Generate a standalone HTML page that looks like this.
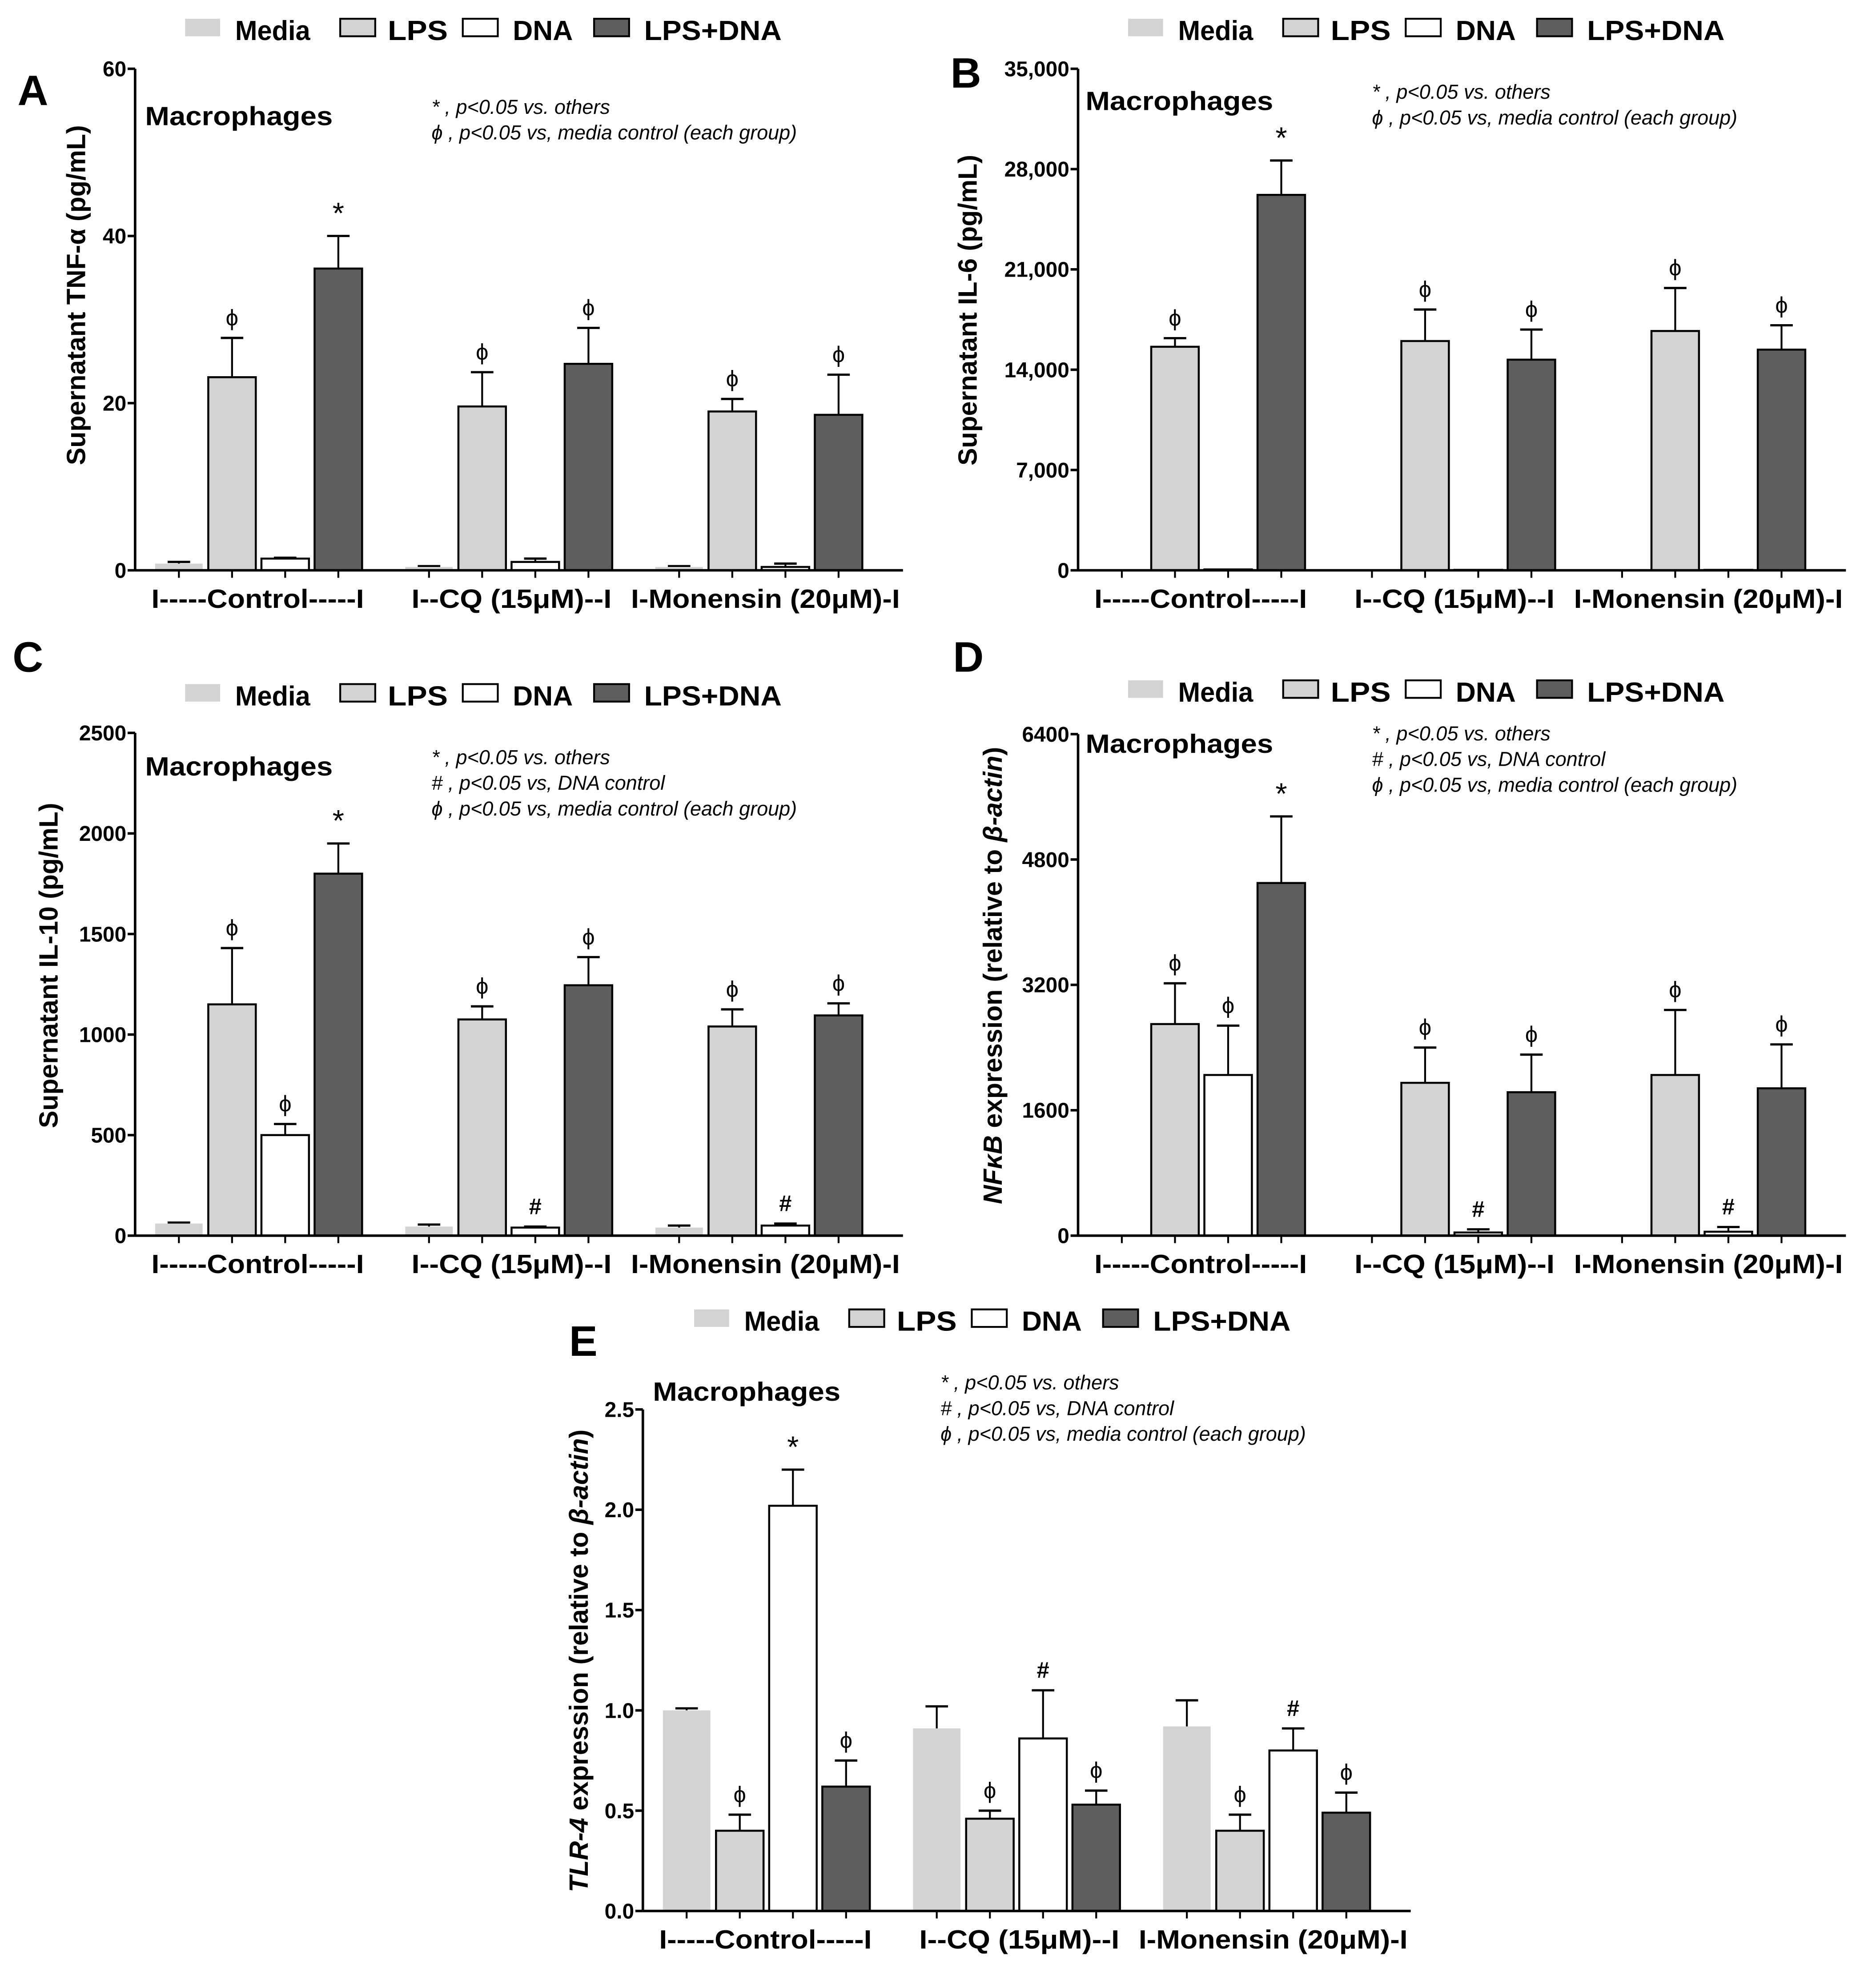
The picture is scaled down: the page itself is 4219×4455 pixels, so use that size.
<!DOCTYPE html>
<html><head><meta charset="utf-8"><style>
html,body{margin:0;padding:0;background:#fff}
svg{display:block}
text{font-family:"Liberation Sans",sans-serif}
.b{font-weight:bold}
.i{font-style:italic}
</style></head><body>
<svg id="fig" width="4219" height="4455" viewBox="0 0 1500 1584" xmlns="http://www.w3.org/2000/svg"></svg>
<script>
const categories = ["I-----Control-----I","I--CQ (15\u03BCM)--I","I-Monensin (20\u03BCM)-I"];
const seriesNames = ["Media","LPS","DNA","LPS+DNA"];
// Panel A TNF-a
const aMedia=[0.8,0.4,0.4], aMediaErr=[1.0,0.5,0.5];
const aLPS=[23.1,19.6,19.0], aLPSErr=[27.8,23.7,20.5];
const aDNA=[1.4,1.0,0.4], aDNAErr=[1.5,1.4,0.8];
const aLD=[36.1,24.7,18.6], aLDErr=[40.0,29.0,23.4];
const aTicks=[0,20,40,60];
// Panel B IL-6
const bMedia=[0,0,0], bMediaErr=[0,0,0];
const bLPS=[15600,16000,16700], bLPSErr=[16200,18200,19700];
const bDNA=[60,30,30], bDNAErr=[60,30,30];
const bLD=[26200,14700,15400], bLDErr=[28600,16800,17100];
const bTicks=[0,7000,14000,21000,28000,35000];
// Panel C IL-10
const cMedia=[60,45,40], cMediaErr=[65,55,50];
const cLPS=[1150,1075,1040], cLPSErr=[1430,1140,1125];
const cDNA=[500,40,50], cDNAErr=[555,45,60];
const cLD=[1800,1245,1095], cLDErr=[1950,1385,1155];
const cTicks=[0,500,1000,1500,2000,2500];
// Panel D NFkB
const dMedia=[0,0,0], dMediaErr=[0,0,0];
const dLPS=[2700,1950,2050], dLPSErr=[3220,2400,2880];
const dDNA=[2050,40,50], dDNAErr=[2680,80,110];
const dLD=[4500,1830,1880], dLDErr=[5350,2310,2440];
const dTicks=[0,1600,3200,4800,6400];
// Panel E TLR-4
const eMedia=[1.0,0.91,0.92], eMediaErr=[1.01,1.02,1.05];
const eLPS=[0.40,0.46,0.40], eLPSErr=[0.48,0.50,0.48];
const eDNA=[2.02,0.86,0.80], eDNAErr=[2.20,1.10,0.91];
const eLD=[0.62,0.53,0.49], eLDErr=[0.75,0.60,0.59];
const eTicks=[0,0.5,1.0,1.5,2.0,2.5];

const NS="http://www.w3.org/2000/svg";
const svg=document.getElementById('fig');
function mk(tag,attrs,parent,txt){const e=document.createElementNS(NS,tag);for(const k in attrs)e.setAttribute(k,attrs[k]);if(txt!==undefined)e.textContent=txt;(parent||svg).appendChild(e);return e;}
const fills=["#d3d3d3","#d3d3d3","#ffffff","#5e5e5e"];
const strokes=["none","#000","#000","#000"];

function legend(x,y){
  const g=mk('g',{});
  
  
  const offs=[[0,40,60],[124,162,48],[222,262,48],[327,367,110]];
  for(let i=0;i<4;i++){
    const r=mk('rect',{x:x+offs[i][0],y:y-9,width:28,height:14,fill:fills[i],stroke:strokes[i]==="none"?"none":"#000","stroke-width":1.5},g);
    
    
    const t=mk('text',{x:x+offs[i][1],y:y+8,'font-size':22,class:'b',textLength:offs[i][2],lengthAdjust:'spacingAndGlyphs'},g,seriesNames[i]);
    
    
  }
}

function panel(o){
  const g=mk('g',{});
  
  
  const max=o.ticks[o.ticks.length-1];
  const yS=v=>o.y0-(v/max)*(o.y0-o.yTop);
  const xS=(gi,si)=>o.x0+35+gi*200+si*42.5;
  legend(o.legX,o.legY);
  const L=mk('text',{x:o.letX,y:o.letY,'font-size':34,class:'b'},g,o.letter);
  
  
  const M=mk('text',{x:o.macX,y:o.macY,'font-size':21,class:'b',textLength:150,lengthAdjust:'spacingAndGlyphs'},g,'Macrophages');
  
  
  o.notes.forEach((n,k)=>{
    const t=mk('text',{x:o.noteX,y:o.noteY+k*20.5,'font-size':16,class:'i'},g,n);
    
    
  });
  const series=[[o.s[0],o.e[0]],[o.s[1],o.e[1]],[o.s[2],o.e[2]],[o.s[3],o.e[3]]];
  const bw=38;
  for(let gi=0;gi<3;gi++){
    for(let si=0;si<4;si++){
      const v=series[si][0][gi], ev=series[si][1][gi];
      const cx=xS(gi,si);
      if(ev>v){
        const l=mk('line',{x1:cx,x2:cx,y1:yS(v),y2:yS(ev),stroke:'#000','stroke-width':1.5},g);
        
        
        const c=mk('line',{x1:cx-9,x2:cx+9,y1:yS(ev),y2:yS(ev),stroke:'#000','stroke-width':1.8},g);
        
        
      }
      if(v>0){
        const r=mk('rect',{x:cx-bw/2,y:yS(v),width:bw,height:o.y0-yS(v),fill:fills[si],stroke:strokes[si],'stroke-width':1.6},g);
        
        
      }
      const mark=o.marks[si][gi];
      if(mark){
        const top=Math.max(v,ev);
        const t=mk('text',{x:cx,y:yS(top)-10,'font-size':mark==='*'?24:18,'text-anchor':'middle',class:mark==='#'?'b':''},g,mark);
        
        
      }
    }
  }
  // axes
  const ya=mk('line',{x1:o.x0,x2:o.x0,y1:o.yTop,y2:o.y0,stroke:'#000','stroke-width':2},g);
  
  
  const xa=mk('line',{x1:o.x0,x2:o.x0+614,y1:o.y0,y2:o.y0,stroke:'#000','stroke-width':2},g);
  
  
  o.ticks.forEach((tv,k)=>{
    const y=yS(tv);
    mk('line',{x1:o.x0-6,x2:o.x0,y1:y,y2:y,stroke:'#000','stroke-width':2},g);
    const t=mk('text',{x:o.x0-7,y:y+6,'font-size':17,class:'b','text-anchor':'end'},g,o.tickLabels[k]);
    
    
  });
  for(let gi=0;gi<3;gi++)for(let si=0;si<4;si++){
    const x=xS(gi,si);
    mk('line',{x1:x,x2:x,y1:o.y0,y2:o.y0+6,stroke:'#000','stroke-width':1.5},g);
  }
  const catW=[170,160,215];
  categories.forEach((c,gi)=>{
    const t=mk('text',{x:o.x0+98+gi*203,y:o.y0+30,'font-size':21,class:'b','text-anchor':'middle',textLength:catW[gi],lengthAdjust:'spacingAndGlyphs'},g,c);
    
    
  });
  const yt=mk('text',{x:0,y:0,'font-size':21,class:'b','text-anchor':'middle',transform:`translate(${o.ytX},${o.ytY}) rotate(-90)`},g);
  
  
  o.ytitle.forEach(p=>{const s=mk('tspan',{},yt,p[0]);if(p[1])s.setAttribute('font-style','italic');});
}

const PHI='\u03D5';
panel({letter:'A',letX:14,letY:84,legX:148,legY:24,macX:116,macY:100,noteX:345,noteY:91,
  notes:['* , p<0.05 vs. others',PHI+' , p<0.05 vs, media control (each group)'],
  x0:108,y0:456,yTop:55,ticks:aTicks,tickLabels:aTicks.map(String),
  s:[aMedia,aLPS,aDNA,aLD],e:[aMediaErr,aLPSErr,aDNAErr,aLDErr],
  marks:[[0,0,0],[PHI,PHI,PHI],[0,0,0],['*',PHI,PHI]],
  ytX:68,ytY:236,ytitle:[['Supernatant TNF-\u03B1 (pg/mL)']]});
panel({letter:'B',letX:760,letY:70,legX:902,legY:24,macX:868,macY:88,noteX:1097,noteY:79,
  notes:['* , p<0.05 vs. others',PHI+' , p<0.05 vs, media control (each group)'],
  x0:862,y0:456,yTop:55,ticks:bTicks,tickLabels:["0","7,000","14,000","21,000","28,000","35,000"],
  s:[bMedia,bLPS,bDNA,bLD],e:[bMediaErr,bLPSErr,bDNAErr,bLDErr],
  marks:[[0,0,0],[PHI,PHI,PHI],[0,0,0],['*',PHI,PHI]],
  ytX:781,ytY:248,ytitle:[['Supernatant IL-6 (pg/mL)']]});
panel({letter:'C',letX:10,letY:537,legX:148,legY:556,macX:116,macY:620,noteX:345,noteY:611,
  notes:['* , p<0.05 vs. others','# , p<0.05 vs, DNA control',PHI+' , p<0.05 vs, media control (each group)'],
  x0:108,y0:988,yTop:586,ticks:cTicks,tickLabels:cTicks.map(String),
  s:[cMedia,cLPS,cDNA,cLD],e:[cMediaErr,cLPSErr,cDNAErr,cLDErr],
  marks:[[0,0,0],[PHI,PHI,PHI],[PHI,'#','#'],['*',PHI,PHI]],
  ytX:46,ytY:772,ytitle:[['Supernatant IL-10 (pg/mL)']]});
panel({letter:'D',letX:762,letY:537,legX:902,legY:553,macX:868,macY:602,noteX:1097,noteY:592,
  notes:['* , p<0.05 vs. others','# , p<0.05 vs, DNA control',PHI+' , p<0.05 vs, media control (each group)'],
  x0:862,y0:988,yTop:587,ticks:dTicks,tickLabels:dTicks.map(String),
  s:[dMedia,dLPS,dDNA,dLD],e:[dMediaErr,dLPSErr,dDNAErr,dLDErr],
  marks:[[0,0,0],[PHI,PHI,PHI],[PHI,'#','#'],['*',PHI,PHI]],
  ytX:801,ytY:780,ytitle:[['NF\u03BAB',1],[' expression (relative to '],['\u03B2-actin',1],[')']]});
panel({letter:'E',letX:455,letY:1084,legX:555,legY:1056,macX:522,macY:1120,noteX:752,noteY:1111,
  notes:['* , p<0.05 vs. others','# , p<0.05 vs, DNA control',PHI+' , p<0.05 vs, media control (each group)'],
  x0:514,y0:1528,yTop:1127,ticks:eTicks,tickLabels:eTicks.map(v=>v.toFixed(1)),
  s:[eMedia,eLPS,eDNA,eLD],e:[eMediaErr,eLPSErr,eDNAErr,eLDErr],
  marks:[[0,0,0],[PHI,PHI,PHI],['*','#','#'],[PHI,PHI,PHI]],
  ytX:470,ytY:1328,ytitle:[['TLR-4',1],[' expression (relative to '],['\u03B2-actin',1],[')']]});
</script>
</body></html>
